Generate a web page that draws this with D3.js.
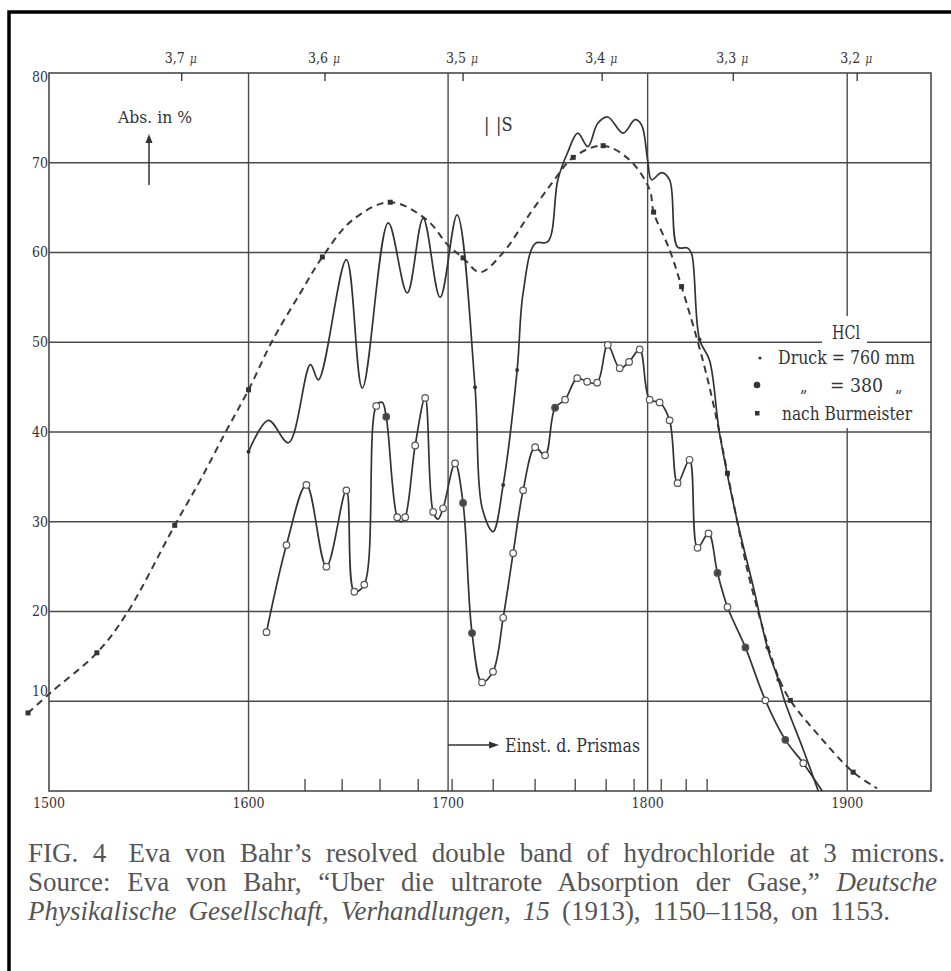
<!DOCTYPE html>
<html>
<head>
<meta charset="utf-8">
<script src="https://cdn.jsdelivr.net/npm/d3@7"></script>
<style>
  body { margin: 0; background: #fff; }
  svg { display: block; }
</style>
</head>
<body>
<svg id="chart" width="951" height="971"></svg>
<script>
// ---- values ----
const xGrid = [1600, 1700, 1800, 1900];
const xLabels = [1500, 1600, 1700, 1800, 1900];
const yGrid = [10, 20, 30, 40, 50, 60, 70];
const yLabels = [10, 20, 30, 40, 50, 60, 70, 80];

// wavelength marks on the top edge (position in prism units)
const micronTicks = [
    ["3,7", 1566.5], ["3,6", 1638.3], ["3,5", 1707.5],
    ["3,4", 1777.2], ["3,3", 1842.9], ["3,2", 1905]
];
// short "Einst. d. Prismas" ticks along the bottom
const prismTicks = [1628.3, 1646.9, 1665.9, 1685, 1702, 1722.6, 1743.6,
    1763.7, 1779.2, 1793.2, 1806.8, 1819.3, 1829.8];

// Druck = 760 mm
const p760 = [
    [1600, 37.8], [1610, 41.3], [1620, 38.8], [1631, 47.5], [1635, 45.8],
    [1649, 59.2], [1657, 44.9], [1670, 63.3], [1679.5, 55.5], [1687.5, 63.8],
    [1696, 55.0], [1704.5, 64.2], [1713.5, 45.0], [1717, 31.6], [1722.5, 28.9],
    [1727.6, 34.1], [1734.6, 46.9], [1737.6, 55.5], [1743.6, 61], [1750, 61.2],
    [1755, 68.1], [1760, 71.2], [1765, 73.3], [1770, 71.8], [1775, 74.4],
    [1780, 75.1], [1787.7, 73.3], [1793.7, 74.8], [1797, 74.2], [1800, 70.3],
    [1802, 68.1], [1807, 68.9], [1811, 68.1], [1815, 60.6], [1820, 60.5],
    [1822, 59.9], [1826, 50.3], [1831, 48.0], [1836, 39.9], [1845, 30],
    [1853, 22.7], [1860, 16.0], [1865.5, 12.4], [1869, 9.8], [1878, 4.6],
    [1885.5, 0]
];
const p760Dots = [1600, 1713.5, 1727.6, 1734.6, 1826, 1860, 1865.5];

// Druck = 380 mm
const p380 = [
    [1609, 17.7], [1619, 27.4], [1629, 34.1], [1639, 25.0], [1649, 33.5],
    [1653, 22.2], [1658, 23.0], [1664, 42.9], [1667, 43.3], [1669, 41.7],
    [1674.5, 30.5], [1676.5, 30.0], [1678.5, 30.5], [1683.5, 38.5], [1688.5, 43.8],
    [1692.5, 31.1], [1695, 30.3], [1697.5, 31.5], [1703.5, 36.5], [1707.5, 32.1],
    [1712, 17.6], [1717, 12.1], [1722.5, 13.3], [1727.6, 19.3], [1732.6, 26.5],
    [1737.6, 33.5], [1743.6, 38.3], [1748.6, 37.4], [1753.6, 42.7], [1758.6, 43.6],
    [1764.7, 46.0], [1769.7, 45.6], [1774.7, 45.5], [1780, 49.7], [1786, 47.1],
    [1790.7, 47.8], [1796, 49.2], [1801, 43.6], [1806, 43.3], [1811, 41.3],
    [1815, 34.3], [1821, 36.9], [1825, 27.1], [1830.5, 28.7], [1835, 24.3],
    [1840, 20.5], [1849, 16.0], [1859, 10.1], [1869, 5.7], [1878, 3.1],
    [1887.5, 0]
];
const p380Filled = [1669, 1707.5, 1712, 1753.6, 1835, 1849, 1869];
const p380Bare = [1667, 1676.5, 1695, 1887.5];

// nach Burmeister
const burmeister = [
    [1489.5, 8.7], [1500.5, 10.9], [1524, 15.4], [1539, 19.8], [1563, 29.6],
    [1576, 34.7], [1589, 40.2], [1600, 44.7], [1612, 50.2], [1626, 55.5],
    [1637, 59.5], [1652, 63.6], [1671, 65.6], [1689.5, 63.6], [1700, 60.8],
    [1707.5, 59.4], [1716, 57.8], [1727.6, 60], [1740, 64], [1752.6, 67.9],
    [1762.7, 70.6], [1777.7, 71.9], [1791, 70.3], [1801, 67], [1803, 64.5],
    [1811, 60.3], [1817, 56.2], [1828, 47.7], [1835, 41], [1840, 35.4],
    [1846.5, 28.3], [1850, 24.6], [1858, 17.9], [1865.5, 12.7], [1871.5, 10.1],
    [1886.5, 6.0], [1903, 2.1], [1915, 0.3]
];
const burmeisterMarks = [1489.5, 1524, 1563, 1600, 1637, 1671, 1707.5,
    1762.7, 1777.7, 1803, 1817, 1840, 1871.5, 1903];

const captionLines = [
    ["FIG. 4", " Eva von Bahr\u2019s resolved double band of hydrochloride at 3 microns."],
    ["Source: Eva von Bahr, \u201cUber die ultrarote Absorption der Gase,\u201d", "Deutsche"],
    ["Physikalische Gesellschaft, Verhandlungen, 15", "(1913), 1150\u20131158, on 1153."]
];

// ---- drawing ----
const ink = "#333";
const chartFont = "'DejaVu Serif Condensed', 'DejaVu Serif', serif";
const svg = d3.select("#chart");

const x = d3.scaleLinear().domain([1500, 1942]).range([49, 931]);
const y = d3.scaleLinear().domain([0, 80]).range([791, 73]);

// scanned page frame (top and left only)
svg.append("path")
    .attr("d", "M9,971V12H951")
    .attr("fill", "none")
    .attr("stroke", "#000")
    .attr("stroke-width", 3.5);

const plot = svg.append("g");

// grid
plot.selectAll(".hgrid")
    .data(yGrid)
    .join("line")
    .attr("x1", x(1500)).attr("x2", x(1942))
    .attr("y1", d => y(d)).attr("y2", d => y(d))
    .attr("stroke", "#4a4a4a").attr("stroke-width", 1.4);

plot.selectAll(".vgrid")
    .data(xGrid)
    .join("line")
    .attr("x1", d => x(d)).attr("x2", d => x(d))
    .attr("y1", y(80)).attr("y2", y(0))
    .attr("stroke", "#4a4a4a").attr("stroke-width", 1.4);

plot.append("rect")
    .attr("x", x(1500)).attr("y", y(80))
    .attr("width", x(1942) - x(1500)).attr("height", y(0) - y(80))
    .attr("fill", "none").attr("stroke", "#4a4a4a").attr("stroke-width", 1.6);

// top micron ticks
const mt = plot.selectAll(".micron")
    .data(micronTicks)
    .join("g")
    .attr("transform", d => `translate(${x(d[1])},${y(80)})`);
mt.append("line").attr("y2", 8).attr("stroke", ink).attr("stroke-width", 1.3);
mt.append("text")
    .attr("x", -17).attr("y", -10)
    .attr("font-family", chartFont).attr("font-size", 14).attr("fill", "#333")
    .text(d => d[0]);
mt.append("text")
    .attr("x", 8).attr("y", -10)
    .attr("font-family", chartFont).attr("font-size", 12)
    .attr("font-style", "italic").attr("fill", "#444")
    .text("\u03bc");

// bottom prism ticks
plot.selectAll(".prism")
    .data(prismTicks)
    .join("line")
    .attr("x1", d => x(d)).attr("x2", d => x(d))
    .attr("y1", y(0) - 12).attr("y2", y(0))
    .attr("stroke", ink).attr("stroke-width", 1.2);

// axis labels
plot.selectAll(".xl")
    .data(xLabels)
    .join("text")
    .attr("x", d => x(d)).attr("y", y(0) + 17)
    .attr("text-anchor", "middle")
    .attr("font-family", chartFont).attr("font-size", 14).attr("fill", "#333")
    .text(d => d);

plot.selectAll(".yl")
    .data(yLabels)
    .join("text")
    .attr("x", x(1500) - 1)
    .attr("y", d => y(d) + (d === 10 ? -10 : d === 80 ? 4 : 0))
    .attr("dy", "0.35em")
    .attr("text-anchor", "end")
    .attr("font-family", chartFont).attr("font-size", 14).attr("fill", "#333")
    .text(d => d);

// legend backdrop knocks out the grid behind it
plot.append("rect").attr("x", 822).attr("y", 316).attr("width", 45).attr("height", 30).attr("fill", "#fff");
plot.append("rect").attr("x", 750).attr("y", 343).attr("width", 176).attr("height", 85).attr("fill", "#fff");

// curves
const line = d3.line()
    .x(d => x(d[0])).y(d => y(d[1]))
    .curve(d3.curveCatmullRom.alpha(0.5));

plot.append("path")
    .datum(burmeister)
    .attr("d", line)
    .attr("fill", "none").attr("stroke", "#3a3a3a")
    .attr("stroke-width", 2).attr("stroke-dasharray", "7,5");

plot.append("path")
    .datum(p760)
    .attr("d", line)
    .attr("fill", "none").attr("stroke", ink).attr("stroke-width", 1.7);

plot.append("path")
    .datum(p380)
    .attr("d", line)
    .attr("fill", "none").attr("stroke", ink).attr("stroke-width", 1.7);

// markers
plot.selectAll(".bm")
    .data(burmeister.filter(d => burmeisterMarks.includes(d[0])))
    .join("rect")
    .attr("x", d => x(d[0]) - 2.5).attr("y", d => y(d[1]) - 2.5)
    .attr("width", 5).attr("height", 5)
    .attr("fill", "#333");

plot.selectAll(".d760")
    .data(p760.filter(d => p760Dots.includes(d[0])))
    .join("circle")
    .attr("cx", d => x(d[0])).attr("cy", d => y(d[1]))
    .attr("r", 2).attr("fill", "#333");

plot.selectAll(".d380")
    .data(p380.filter(d => !p380Bare.includes(d[0])))
    .join("circle")
    .attr("cx", d => x(d[0])).attr("cy", d => y(d[1]))
    .attr("r", 3.3)
    .attr("fill", d => p380Filled.includes(d[0]) ? "#444" : "#fff")
    .attr("stroke", "#555").attr("stroke-width", 1.2);

// annotations
function label(tx, ty, str, size, len) {
    const t = plot.append("text")
        .attr("x", tx).attr("y", ty)
        .attr("font-family", chartFont).attr("font-size", size).attr("fill", "#333")
        .text(str);
    if (len) t.attr("textLength", len).attr("lengthAdjust", "spacingAndGlyphs");
    return t;
}

label(118, 123, "Abs. in %", 17, 74);
plot.append("line").attr("x1", 149).attr("x2", 149).attr("y1", 185).attr("y2", 140)
    .attr("stroke", ink).attr("stroke-width", 1.5);
plot.append("path").attr("d", "M149,134L145.5,143H152.5Z").attr("fill", ink);

label(484, 131, "|", 18);
label(496, 131, "|S", 18);

label(832, 339, "HCl", 18, 28);
label(778, 364, "Druck = 760 mm", 19, 137);
label(800, 392, "\u201e", 16);
label(830, 392, "= 380", 19, 53);
label(895, 392, "\u201e", 16);
label(782, 420, "nach Burmeister", 19, 130);
plot.append("circle").attr("cx", 760).attr("cy", 358).attr("r", 1.6).attr("fill", "#333");
plot.append("circle").attr("cx", 757).attr("cy", 385).attr("r", 3.3).attr("fill", "#333");
plot.append("rect").attr("x", 755).attr("y", 411).attr("width", 4.5).attr("height", 4.5).attr("fill", "#333");

plot.append("line").attr("x1", x(1700)).attr("x2", 492).attr("y1", 745).attr("y2", 745)
    .attr("stroke", ink).attr("stroke-width", 1.4);
plot.append("path").attr("d", "M499,745L489,741.5V748.5Z").attr("fill", ink);
label(505, 752, "Einst. d. Prismas", 18, 135);

// caption, justified like the printed page
const capFont = "'Liberation Serif', 'Times New Roman', serif";
const capBase = [862, 891, 920];
captionLines.forEach((parts, i) => {
    const t = svg.append("text")
        .attr("x", 28).attr("y", capBase[i])
        .attr("font-family", capFont).attr("font-size", 27).attr("fill", "#555");
    if (i === 0) {
        t.append("tspan").text(parts[0]);
        t.append("tspan").attr("dx", 8).text(parts[1]);
    } else if (i === 1) {
        t.append("tspan").text(parts[0] + " ");
        t.append("tspan").attr("font-style", "italic").text(parts[1]);
    } else {
        t.append("tspan").attr("font-style", "italic").text(parts[0] + " ");
        t.append("tspan").text(parts[1]);
    }
    const node = t.node();
    const natural = node.getComputedTextLength();
    const target = i < 2 ? 937 - 28 : 890 - 28;
    const spaces = (node.textContent.match(/ /g) || []).length;
    t.attr("word-spacing", (target - natural) / spaces);
});
</script>
</body>
</html>
